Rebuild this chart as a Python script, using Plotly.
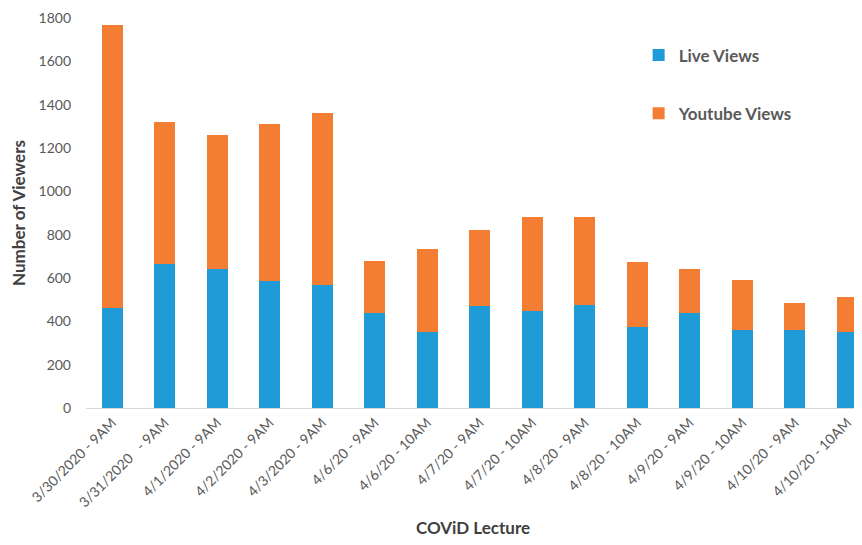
import plotly.graph_objects as go

lectures = ["3/30/2020 - 9AM", "3/31/2020   - 9AM", "4/1/2020 - 9AM", "4/2/2020 - 9AM",
            "4/3/2020 - 9AM", "4/6/20 - 9AM", "4/6/20 - 10AM", "4/7/20 - 9AM",
            "4/7/20 - 10AM", "4/8/20 - 9AM", "4/8/20 - 10AM", "4/9/20 - 9AM",
            "4/9/20 - 10AM", "4/10/20 - 9AM", "4/10/20 - 10AM"]
live_views = [463, 664, 641, 588, 569, 437, 351, 471, 448, 477, 376, 440, 358, 358, 352]
youtube_views = [1303, 656, 620, 721, 794, 240, 382, 353, 435, 406, 299, 204, 233, 126, 161]

font_family = "Lato, Open Sans, Liberation Sans, Arial, sans-serif"
tick_color = "#595959"

fig = go.Figure()
fig.add_trace(go.Bar(x=lectures, y=live_views, name="<b>Live Views</b>",
                     marker=dict(color="#1f9bd8", line=dict(width=0)),
                     legendgroup="a"))
fig.add_trace(go.Bar(x=lectures, y=youtube_views, name="<b>Youtube Views</b>",
                     marker=dict(color="#f37e33", line=dict(width=0)),
                     legendgroup="b"))

# page body has an 8px default margin, so the figure is sized to fit inside it
fig.update_layout(
    width=854, height=537,
    barmode="stack", bargap=0.6,
    plot_bgcolor="white", paper_bgcolor="white",
    margin=dict(l=78, r=2, t=10, b=137),
    font=dict(family=font_family, color=tick_color, size=14),
    showlegend=True,
    legend=dict(x=0.714, y=0.95, xanchor="left", yanchor="top",
                traceorder="grouped", tracegroupgap=33,
                font=dict(size=17, color="#595959", family=font_family),
                bgcolor="rgba(0,0,0,0)"),
)

fig.update_xaxes(
    range=[-0.5, 14.24], automargin=False,
    tickangle=-45, showgrid=False, showline=True, linecolor="#d9d9d9", linewidth=1,
    ticks="", tickfont=dict(size=14, color=tick_color),
    title=dict(text="<b>COViD Lecture</b>", font=dict(size=17, color="#404040"), standoff=12),
)
fig.update_yaxes(
    range=[0, 1800.5], tickvals=[0, 200, 400, 600, 800, 1000, 1200, 1400, 1600, 1800],
    showgrid=False, zeroline=False, showline=False,
    automargin=False, ticklabelstandoff=14, ticklabeloverflow="allow",
    tickfont=dict(size=14, color=tick_color), ticks="",
    title=dict(text="<b>Number of Viewers</b>", font=dict(size=17, color="#404040"), standoff=12),
)

fig.write_html("out.html")
